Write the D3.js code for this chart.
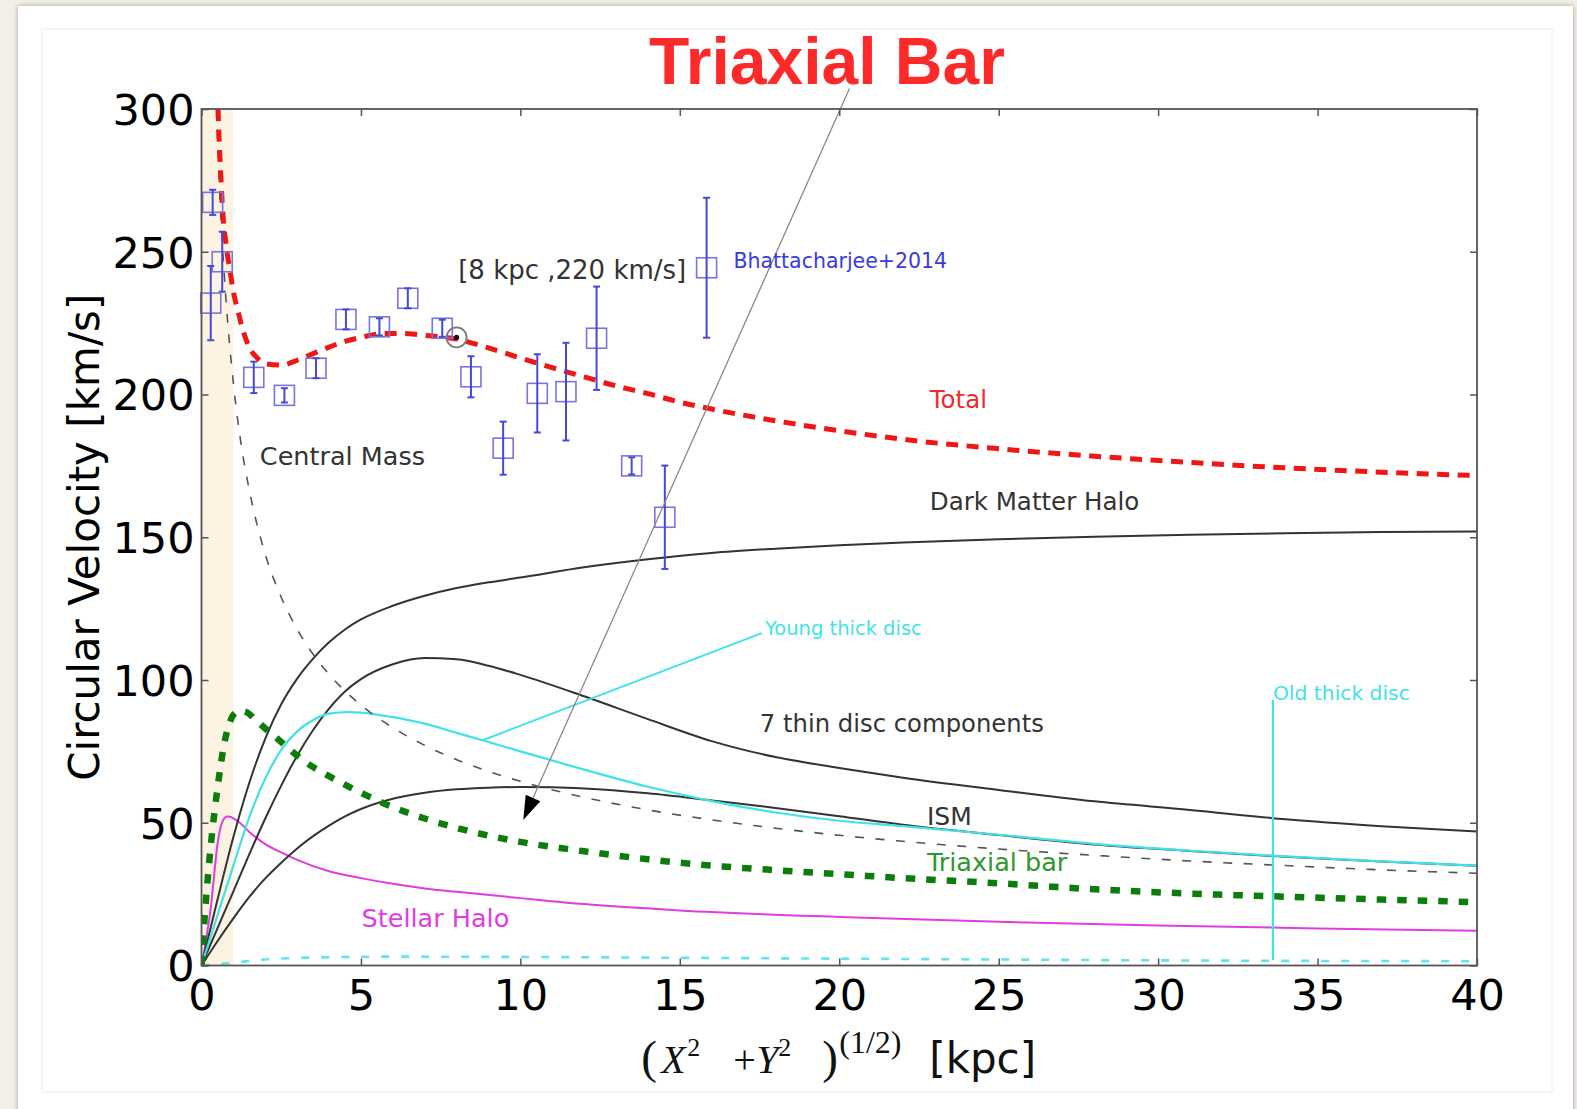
<!DOCTYPE html>
<html>
<head>
<meta charset="utf-8">
<script src="https://cdn.jsdelivr.net/npm/d3@7"></script>
<style>
  html, body { margin: 0; padding: 0; background: #f3efe8; }
  svg { display: block; }
</style>
</head>
<body>
<svg id="chart" width="1577" height="1109"></svg>
<script>
// Milky Way rotation curve decomposition: radius (kpc) vs circular velocity (km/s)

const xTicks = [0, 5, 10, 15, 20, 25, 30, 35, 40];
const yTicks = [0, 50, 100, 150, 200, 250, 300];

// Total model curve
const totalR = [0.52,0.55,0.6,0.65,0.7,0.75,0.8,0.9,1,1.15,1.3,1.5,1.75,2,2.5,3,3.5,4,4.5,5,5.8,6.5,7,8,9,10,11,12,13,14,15,16,18,20,22,25,28,31,34,37,40];
const totalV = [300,290,278,267,259,254.5,250,243,236,229,222.5,216.5,212.8,210.8,210.3,212,214.3,216.6,218.6,220,221.4,221.3,220.7,219.4,216.3,212.8,209.4,206.2,203,200.3,197.3,194.9,190.8,187.3,184.3,181,178.4,176.2,174.3,172.8,171.6];

// Central mass (point-like, Keplerian fall-off)
const centralR = [0.47,0.6,0.75,1,1.25,1.5,2,2.5,3,3.5,4,5,6,7,8,9,10,12,14,16,18,20,22,25,28,31,34,37,40];
const centralV = [300,264,236,204,182,166.5,144,129,117.8,109,102,91.2,83.3,77.1,72.1,68,64.5,58.9,54.5,51,48.1,45.6,43.5,40.8,38.6,36.6,35,33.5,32.3];

// Dark matter halo
const haloDmR = [0,0.5,1,1.5,2,2.5,3,3.5,4,4.5,5,6,7,8,9,10,12,14,16,18,20,22,25,28,31,34,37,40];
const haloDmV = [0,23,45,64,79.5,91.5,100.5,107.5,113.2,117.7,121.2,126,129.5,132.2,134.2,135.9,139.5,142.3,144.5,146,147.2,148.2,149.3,150.2,150.9,151.4,151.8,152];

// 7 thin disc components (combined)
const thinR = [0,0.5,1,1.5,2,2.5,3,3.5,4,4.5,5,6,7,8,9,10,12,14,16,18,20,22,25,28,31,34,37,40];
const thinV = [0,13,26,39,51.5,63,73.5,82.5,90,96,100.3,105.5,107.7,107.3,105,101.8,94.3,86.3,78.6,73,69.2,65.8,61.5,57.5,54.5,51.2,48.8,46.9];

// Interstellar medium
const ismR = [0,0.5,1,1.5,2,2.5,3,3.5,4,4.5,5,6,7,8,9,10,11,12,14,16,18,20,22,25,28,31,34,37,40];
const ismV = [0,8.5,16.5,24,30.5,36,41,45.3,49,52.2,54.8,58.4,60.5,61.7,62.3,62.5,62.4,62,60.3,57.8,55.2,52.3,49.3,45.7,42.4,40.1,38.1,36.4,34.9];

// Young thick disc
const youngR = [0,0.5,1,1.5,2,2.5,3,3.5,4,4.6,5,6,7,8,9,10,12,14,16,18,20,22,25,28,31,34,37,40];
const youngV = [0,17.5,35,52,65.5,75.5,82,86,88.2,88.8,88.6,87,84.7,81.5,78.3,75,68.6,62.6,57.6,53.6,50.7,48.8,45.8,42.6,40.2,38.2,36.5,35];

// Old thick disc
const oldR = [0,1,2,4,6,10,15,20,25,30,35,40];
const oldV = [0,1,2.1,2.9,3.1,3.0,2.7,2.4,2.1,1.8,1.6,1.5];

// Triaxial bar
const barR = [0,0.1,0.2,0.3,0.4,0.5,0.6,0.7,0.8,0.9,1,1.2,1.4,1.7,2,2.5,3,3.5,4,5,6,7,8,9,10,12,14,16,18,20,22,25,28,31,34,37,40];
const barV = [0,17,31,43,53,62,70,77,82,85.5,87.8,89.2,88.8,86,83,78.3,73.5,69.5,66.3,60.5,55.5,51.5,48.2,45.5,43.3,40,37.2,35,33.4,32,30.6,28.8,26.7,25.2,24.1,23.1,22.2];

// Stellar halo
const stellarR = [0,0.1,0.2,0.3,0.4,0.5,0.6,0.7,0.8,0.9,1,1.2,1.5,2,2.5,3,4,5,6,7,8,10,12,15,20,25,30,35,40];
const stellarV = [0,6,13,21,32,42.5,48.5,51.3,52.2,52.1,51.5,50,46.8,42.5,39.6,37,33,30.6,28.6,27,25.8,23.6,21.5,19.3,17,15.3,14,13,12.2];

// Observed rotation curve (Bhattacharjee et al. 2014)
const obsR   = [0.35,0.65,0.29,1.64,2.6,3.59,4.53,5.58,6.47,7.55,8.45,9.46,10.53,11.43,12.39,13.49,14.53,15.84];
const obsV   = [267.3,246.5,232,206,199.7,209.2,226.3,223.7,233.7,223.2,206.2,181.2,200.4,201,219.7,175,157,244.4];
const obsErr = [4.4,10.5,13,5.5,2.5,3.5,3.5,3,3.5,3,7.2,9.3,13.7,17.1,18.1,3,18.1,24.5];

// Sun position
const sunR = 8, sunV = 220;

const W = 1577, H = 1109;
const svg = d3.select("#chart");

// ---- page card ----
const defs = svg.append("defs");
const sh = defs.append("filter").attr("id", "cardShadow")
  .attr("x", "-5%").attr("y", "-5%").attr("width", "110%").attr("height", "110%");
sh.append("feDropShadow").attr("dx", 0).attr("dy", 0).attr("stdDeviation", 2.5)
  .attr("flood-color", "#000").attr("flood-opacity", 0.35);

svg.append("rect").attr("x", 0).attr("y", 0).attr("width", W).attr("height", H).attr("fill", "#f3efe8");
svg.append("rect").attr("x", 18).attr("y", 6).attr("width", 1555).attr("height", 1120)
  .attr("fill", "#ffffff").attr("filter", "url(#cardShadow)");
svg.append("rect").attr("x", 42).attr("y", 29).attr("width", 1510).attr("height", 1063)
  .attr("fill", "none").attr("stroke", "#ececec").attr("stroke-width", 1);

// ---- scales ----
const x = d3.scaleLinear().domain([0, 40]).range([201.5, 1477]);
const y = d3.scaleLinear().domain([0, 300]).range([965.5, 109]);

defs.append("clipPath").attr("id", "plotClip").append("rect")
  .attr("x", x(0)).attr("y", y(300)).attr("width", x(40) - x(0)).attr("height", y(0) - y(300));

// central bar region shading (0 - 1 kpc)
svg.append("rect")
  .attr("x", x(0)).attr("y", y(300))
  .attr("width", x(1) - x(0)).attr("height", y(0) - y(300))
  .attr("fill", "#fcf3e2");

const plot = svg.append("g").attr("clip-path", "url(#plotClip)");

const line = d3.line().x(d => x(d[0])).y(d => y(d[1])).curve(d3.curveMonotoneX);
const zipRV = (r, v) => r.map((ri, i) => [ri, v[i]]);

function drawCurve(r, v, style) {
  plot.append("path")
    .datum(zipRV(r, v))
    .attr("d", line)
    .attr("fill", "none")
    .attr("stroke", style.color)
    .attr("stroke-width", style.width)
    .attr("stroke-dasharray", style.dash || null)
    .attr("stroke-linejoin", "round");
}

const cyan = "#3fe2e8";

drawCurve(oldR, oldV, { color: "#5fe5ea", width: 2.6, dash: "8,12" });
drawCurve(stellarR, stellarV, { color: "#e03ce0", width: 2 });
drawCurve(ismR, ismV, { color: "#333333", width: 2 });
drawCurve(thinR, thinV, { color: "#333333", width: 2 });
drawCurve(haloDmR, haloDmV, { color: "#333333", width: 2 });
drawCurve(youngR, youngV, { color: cyan, width: 2.2 });
drawCurve(centralR, centralV, { color: "#555555", width: 1.6, dash: "9,11.5" });
drawCurve(barR, barV, { color: "#0a7d0a", width: 6.5, dash: "9.5,11" });

// ---- observed data: open squares with error bars ----
const obs = svg.append("g");
obsR.forEach((r, i) => {
  const cx = x(r), cy = y(obsV[i]);
  const yt = y(obsV[i] + obsErr[i]), yb = y(obsV[i] - obsErr[i]);
  obs.append("rect")
    .attr("x", cx - 10).attr("y", cy - 10).attr("width", 20).attr("height", 20)
    .attr("fill", "none").attr("stroke", "#7676de").attr("stroke-width", 1.6);
  obs.append("line").attr("x1", cx).attr("x2", cx).attr("y1", yt).attr("y2", yb)
    .attr("stroke", "#4848d8").attr("stroke-width", 2);
  [yt, yb].forEach(yy => obs.append("line")
    .attr("x1", cx - 3.5).attr("x2", cx + 3.5).attr("y1", yy).attr("y2", yy)
    .attr("stroke", "#4848d8").attr("stroke-width", 2));
});

// total curve on top
drawCurve(totalR, totalV, { color: "#f01616", width: 5, dash: "12,8.5" });

// Sun marker
svg.append("circle").attr("cx", x(sunR)).attr("cy", y(sunV)).attr("r", 10)
  .attr("fill", "none").attr("stroke", "#7a7a7a").attr("stroke-width", 1.8);
svg.append("circle").attr("cx", x(sunR)).attr("cy", y(sunV)).attr("r", 2.6).attr("fill", "#111");

// ---- annotation lines ----
// young thick disc pointer
svg.append("line")
  .attr("x1", x(8.84)).attr("y1", y(79)).attr("x2", x(17.57)).attr("y2", y(116.4))
  .attr("stroke", cyan).attr("stroke-width", 2);
// old thick disc pointer
svg.append("line")
  .attr("x1", x(33.6)).attr("y1", y(93)).attr("x2", x(33.6)).attr("y2", y(1.9))
  .attr("stroke", cyan).attr("stroke-width", 2.2);

// title arrow pointing at the bar curve
{
  const sx = x(20.32), sy = y(307.2), tx = x(10.09), ty = y(51.0);
  const dx = tx - sx, dy = ty - sy, len = Math.hypot(dx, dy);
  const ux = dx / len, uy = dy / len;
  const headL = 24, headW = 8;
  const bx = tx - ux * headL, by = ty - uy * headL;
  svg.append("line").attr("x1", sx).attr("y1", sy).attr("x2", bx).attr("y2", by)
    .attr("stroke", "#8a8a8a").attr("stroke-width", 1.3);
  svg.append("polygon")
    .attr("points", [[tx, ty], [bx - uy * headW, by + ux * headW], [bx + uy * headW, by - ux * headW]]
      .map(p => p.join(",")).join(" "))
    .attr("fill", "#000");
}

// ---- frame and axes ----
svg.append("rect")
  .attr("x", x(0)).attr("y", y(300)).attr("width", x(40) - x(0)).attr("height", y(0) - y(300))
  .attr("fill", "none").attr("stroke", "#555").attr("stroke-width", 1.8);

const tickFont = "'DejaVu Sans', Verdana, sans-serif";

function styleAxis(g) {
  g.select(".domain").remove();
  g.selectAll(".tick line").attr("stroke", "#555").attr("stroke-width", 1.5);
  g.selectAll(".tick text").attr("fill", "#000").style("font-family", tickFont).style("font-size", "43px");
}

svg.append("g").attr("transform", `translate(0,${y(0)})`)
  .call(d3.axisBottom(x).tickValues(xTicks).tickSize(-7).tickPadding(14).tickFormat(d3.format("d")))
  .call(styleAxis);
svg.append("g").attr("transform", `translate(0,${y(300)})`)
  .call(d3.axisTop(x).tickValues(xTicks).tickSize(-7).tickFormat(""))
  .call(styleAxis);
svg.append("g").attr("transform", `translate(${x(0)},0)`)
  .call(d3.axisLeft(y).tickValues(yTicks).tickSize(-7).tickPadding(7).tickFormat(d3.format("d")))
  .call(styleAxis)
  .call(g => g.selectAll(".tick text").attr("dy", "0.36em"));
svg.append("g").attr("transform", `translate(${x(40)},0)`)
  .call(d3.axisRight(y).tickValues(yTicks).tickSize(-7).tickFormat(""))
  .call(styleAxis);

// y-axis title
svg.append("text")
  .attr("transform", `translate(99,${(y(0) + y(300)) / 2}) rotate(-90)`)
  .attr("text-anchor", "middle")
  .style("font-family", tickFont).style("font-size", "42px").attr("fill", "#000")
  .text("Circular Velocity [km/s]");

// x-axis title: (X^2 + Y^2)^(1/2) [kpc]
{
  const cx = (x(0) + x(40)) / 2;
  const base = 1073;
  const serif = "'Liberation Serif', 'DejaVu Serif', serif";
  const pieces = [
    { t: "(",     dx: -198, dy: 0,   size: 47, fam: serif, it: false },
    { t: "X",     dx: -178, dy: 0,   size: 40, fam: serif, it: true },
    { t: "2",     dx: -152, dy: -17, size: 26, fam: serif, it: false },
    { t: "+",     dx: -106, dy: 0,   size: 40, fam: serif, it: false },
    { t: "Y",     dx: -83,  dy: 0,   size: 40, fam: serif, it: true },
    { t: "2",     dx: -61,  dy: -17, size: 26, fam: serif, it: false },
    { t: ")",     dx: -17,  dy: 0,   size: 47, fam: serif, it: false },
    { t: "(1/2)", dx: 0,    dy: -20, size: 32, fam: serif, it: false },
    { t: "[kpc]", dx: 90,   dy: 0,   size: 42, fam: tickFont, it: false }
  ];
  const g = svg.append("g");
  pieces.forEach(p => {
    g.append("text")
      .attr("x", cx + p.dx).attr("y", base + p.dy)
      .style("font-family", p.fam).style("font-size", p.size + "px")
      .style("font-style", p.it ? "italic" : "normal")
      .attr("fill", "#111")
      .text(p.t);
  });
}

// chart title
svg.append("text")
  .attr("x", 827).attr("y", 84).attr("text-anchor", "middle")
  .style("font-family", "'Liberation Sans', Arial, sans-serif")
  .style("font-size", "66px").style("font-weight", "bold")
  .attr("fill", "#fe2a2a")
  .text("Triaxial Bar");

// ---- curve labels ----
const labelText  = ["[8 kpc ,220 km/s]", "Bhattacharjee+2014", "Total", "Central Mass", "Dark Matter Halo",
                    "Young thick disc", "Old thick disc", "7 thin disc components", "ISM", "Triaxial bar", "Stellar Halo"];
const labelR     = [8.05, 16.68, 22.84, 1.83, 22.84, 17.67, 33.6, 17.51, 22.75, 22.75, 5.02];
const labelV     = [240.5, 244.3, 195.2, 175.3, 159.5, 115.8, 93, 81.9, 49.3, 33.1, 13.6];
const labelSize  = [26, 20.5, 24.5, 25.5, 24.5, 19.5, 20.3, 24.3, 25, 25.5, 25.5];
const labelColor = ["#333", "#3a3ae0", "#ee2c2c", "#333", "#333",
                    "#3fe2e8", "#3fe2e8", "#333", "#333", "#2e982e", "#e03ce0"];

labelText.forEach((t, i) => {
  svg.append("text")
    .attr("x", x(labelR[i])).attr("y", y(labelV[i]))
    .style("font-family", tickFont).style("font-size", labelSize[i] + "px")
    .attr("fill", labelColor[i])
    .text(t);
});
</script>
</body>
</html>
